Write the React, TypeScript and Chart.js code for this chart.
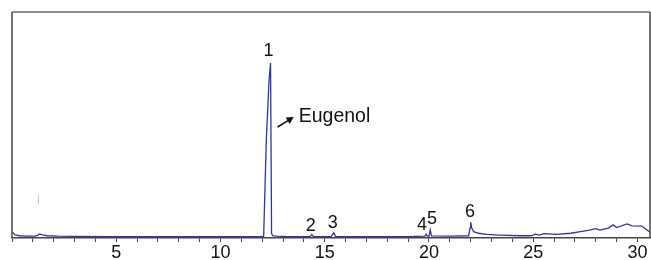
import React, { useEffect, useRef } from "react";
import Chart from "chart.js/auto";

const retentionTime = [
  0, 0.15, 0.35, 0.7, 1.1, 1.25, 1.32, 1.45, 1.7, 2.2, 3, 4.5, 6, 8, 10, 11.5, 12.0,
  12.07, 12.2, 12.33, 12.4, 12.45, 12.5, 12.7, 13.2, 14.3, 14.38, 14.45, 15.3,
  15.43, 15.52, 17, 19, 19.8, 19.86, 19.92, 20.0, 20.06, 20.12, 21, 21.9, 21.97, 22.0,
  22.05, 22.14, 22.37, 22.77, 23.4, 24.4, 24.9, 25.1, 25.3, 25.5, 26.1, 26.8, 27.26, 27.7,
  28.0, 28.2, 28.6, 28.83, 29.0, 29.5, 29.74, 30.2, 30.46, 30.6,
];
const intensity = [
  2.8, 1.4, 1.0, 0.8, 0.8, 1.3, 1.8, 1.4, 1.0, 0.8, 0.7, 0.6, 0.6, 0.6, 0.6, 0.6, 0.6,
  0.8, 44, 70, 77.4, 2.0, 1.0, 0.8, 0.6, 0.6, 1.5, 0.6, 0.6,
  2.3, 0.6, 0.6, 0.6, 0.8, 1.7, 0.8, 0.8, 3.6, 0.9, 0.8, 1.0, 4.5, 7.0,
  4.4, 2.8, 2.1, 1.6, 1.3, 1.0, 1.0, 1.7, 1.3, 1.9, 1.6, 2.1, 2.8, 3.5,
  4.1, 3.5, 4.4, 5.8, 4.6, 6.2, 5.4, 5.3, 3.5, 2.5,
];

const artifactX = [1.27, 1.27];
const artifactY = [15, 19];

const peakLabels = ["1", "2", "3", "4", "5", "6"];
const peakLabelX = [12.3, 14.33, 15.38, 19.66, 20.14, 21.97];
const peakLabelY = [82.7, 5.3, 6.6, 5.8, 8.4, 11.5];

const compoundName = "Eugenol";
const compoundX = 13.75;
const compoundY = 53.8;
const arrowFrom = { x: 12.74, y: 49.1 };
const arrowTo = { x: 13.51, y: 53.5 };

const xTickStep = 1;
const xLabelEvery = 5;
const xMin = 0;
const xMax = 30.6;

const FONT = "'Liberation Sans', Arial, Helvetica, sans-serif";

export default function App() {
  const ref = useRef<HTMLCanvasElement | null>(null);

  useEffect(() => {
    const canvas = ref.current;
    if (!canvas) return;

    const overlay = {
      id: "overlay",
      afterDatasetsDraw(chart: any) {
        const { ctx, chartArea, scales } = chart;
        const xs = scales.x;
        const ys = scales.y;
        ctx.save();
        // frame
        ctx.lineWidth = 1.5;
        ctx.strokeStyle = "#444";
        ctx.beginPath();
        ctx.moveTo(chartArea.left, chartArea.bottom);
        ctx.lineTo(chartArea.left, chartArea.top);
        ctx.stroke();
        ctx.strokeStyle = "#666";
        ctx.beginPath();
        ctx.moveTo(chartArea.left, chartArea.top);
        ctx.lineTo(chartArea.right, chartArea.top);
        ctx.stroke();
        ctx.strokeStyle = "#444";
        ctx.beginPath();
        ctx.moveTo(chartArea.right, chartArea.top);
        ctx.lineTo(chartArea.right, chartArea.bottom);
        ctx.stroke();
        // peak labels
        ctx.fillStyle = "#111";
        ctx.font = `18px ${FONT}`;
        ctx.textAlign = "center";
        ctx.textBaseline = "middle";
        peakLabels.forEach((t, i) => {
          ctx.fillText(t, xs.getPixelForValue(peakLabelX[i]), ys.getPixelForValue(peakLabelY[i]));
        });
        // compound name
        ctx.textAlign = "left";
        ctx.font = `19.5px ${FONT}`;
        ctx.fillText(compoundName, xs.getPixelForValue(compoundX), ys.getPixelForValue(compoundY));
        // arrow
        const x1 = xs.getPixelForValue(arrowFrom.x);
        const y1 = ys.getPixelForValue(arrowFrom.y);
        const x2 = xs.getPixelForValue(arrowTo.x);
        const y2 = ys.getPixelForValue(arrowTo.y);
        const ang = Math.atan2(y2 - y1, x2 - x1);
        const hl = 8;
        ctx.strokeStyle = "#111";
        ctx.lineWidth = 1.6;
        ctx.beginPath();
        ctx.moveTo(x1, y1);
        ctx.lineTo(x2 - hl * 0.6 * Math.cos(ang), y2 - hl * 0.6 * Math.sin(ang));
        ctx.stroke();
        ctx.fillStyle = "#111";
        ctx.beginPath();
        ctx.moveTo(x2, y2);
        ctx.lineTo(x2 - hl * Math.cos(ang - 0.5), y2 - hl * Math.sin(ang - 0.5));
        ctx.lineTo(x2 - hl * Math.cos(ang + 0.5), y2 - hl * Math.sin(ang + 0.5));
        ctx.closePath();
        ctx.fill();
        ctx.restore();
      },
    };

    const chart = new Chart(canvas, {
      type: "line",
      data: {
        datasets: [
          {
            data: retentionTime.map((x, i) => ({ x, y: intensity[i] })),
            borderColor: "#3434a0",
            borderWidth: 1.3,
            pointRadius: 0,
            tension: 0,
          },
          {
            data: artifactX.map((x, i) => ({ x, y: artifactY[i] })),
            borderColor: "#c4c4e4",
            borderWidth: 1.2,
            pointRadius: 0,
          },
        ],
      },
      options: {
        responsive: false,
        animation: false,
        layout: { padding: { left: 12, right: 1, top: 12, bottom: 0 } },
        plugins: { legend: { display: false }, tooltip: { enabled: false } },
        scales: {
          x: {
            type: "linear",
            min: xMin,
            max: xMax,
            afterFit(scale: any) {
              scale.height = 22;
            },
            border: { display: true, color: "#444", width: 1.5 },
            grid: {
              drawOnChartArea: false,
              drawTicks: true,
              tickLength: 4,
              color: "#444",
              lineWidth: 1,
            },
            ticks: {
              stepSize: xTickStep,
              includeBounds: false,
              autoSkip: false,
              maxRotation: 0,
              padding: 0,
              color: "#111",
              font: { family: FONT, size: 18 },
              callback: (v: any) => (Number(v) % xLabelEvery === 0 && Number(v) > 0 ? String(v) : ""),
            },
          },
          y: {
            display: false,
            min: 0,
            max: 100,
          },
        },
      },
      plugins: [overlay],
    });
    return () => chart.destroy();
  }, []);

  return (
    <div style={{ position: "absolute", left: 0, top: 0, width: 651, height: 260, background: "#fff" }}>
      <canvas ref={ref} width={651} height={260} style={{ display: "block", width: 651, height: 260 }} />
    </div>
  );
}
